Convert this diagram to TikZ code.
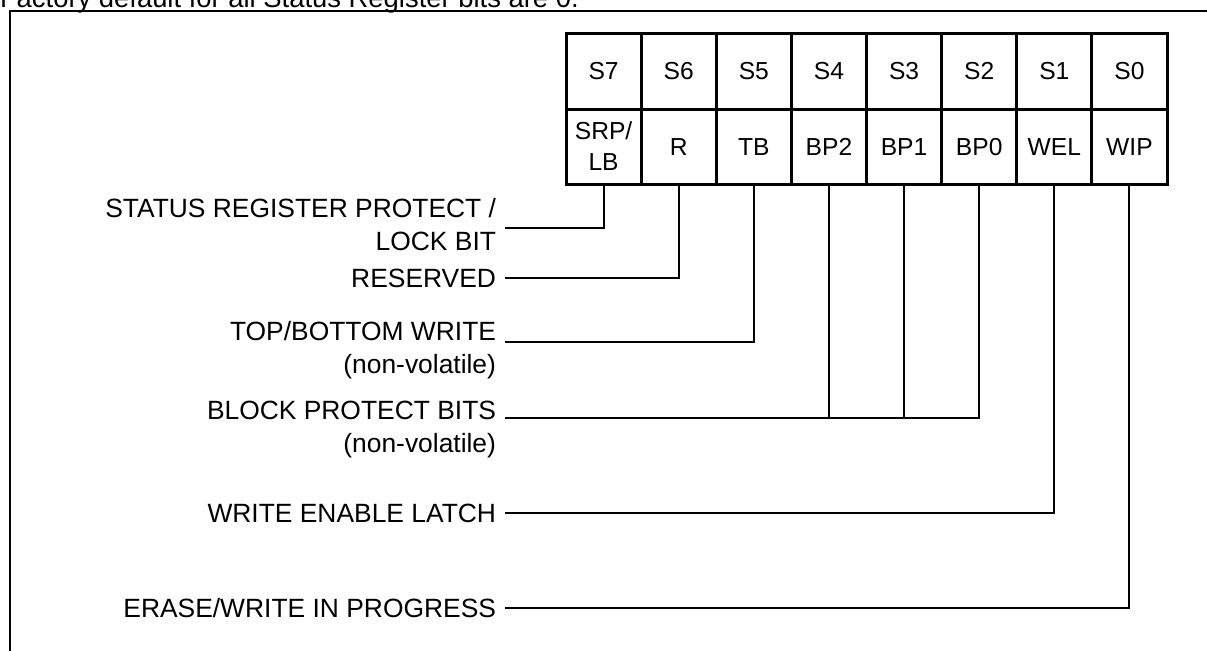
\documentclass[tikz,border=0pt]{standalone}
\usepackage{fontspec}
\setmainfont{Liberation Sans}
\usepackage{tikz}

\begin{document}
\begin{tikzpicture}[x=0.5pt, y=-0.5pt, line width=1pt,
  cell/.style={draw, line width=1.5pt, anchor=north west, inner sep=0pt, outer sep=0pt,
    minimum width=37.56pt, font=\fontsize{12.3pt}{15.5pt}\selectfont},
  bitname/.style={cell, minimum height=37.5pt, text height=8.8pt, text depth=0pt},
  desc/.style={inner sep=0pt, align=right, font=\fontsize{13.2pt}{16.5pt}\selectfont}]
\useasboundingbox (0,0) rectangle (1207,650);
%%%%% Caption and frame %%%%%
\node[anchor=base west, inner sep=0pt, font=\fontsize{13.7pt}{16pt}\selectfont] (note) at (-1,7)
  {Factory default for all Status Register bits are 0.};
\draw (9.5,700) -- (9.5,11) -- (1250,11);

%%%%% Register %%%%%
\foreach \j in {7,...,0}{
\node[cell, minimum height=38pt, text height=8.8pt, text depth=0pt] (s\j) at ({566+(7-\j)*75.125},33) {S\j};
}
\node[cell, minimum height=37.5pt, align=center] (b7) at (566,109) {SRP/\\LB};
\foreach \j/\bit in {6/R,5/TB,4/BP2,3/BP1,2/BP0,1/WEL,0/WIP}{
\node[bitname] (b\j) at ({566+(7-\j)*75.125},109) {\bit};
}

%%%%% Descriptions %%%%%
\node[desc, anchor=north east] (lsrp) at (497,197.5) {STATUS REGISTER PROTECT /\\LOCK BIT};
\node[desc, anchor=east] (lres) at (497,278) {RESERVED};
\node[desc, anchor=north east] (ltb) at (497,320.5) {TOP/BOTTOM WRITE\\(non-volatile)};
\node[desc, anchor=north east] (lbp) at (497,400.5) {BLOCK PROTECT BITS\\(non-volatile)};
\node[desc, anchor=east] (lwel) at (497,513) {WRITE ENABLE LATCH};
\node[desc, anchor=east] (lwip) at (497,608) {ERASE/WRITE IN PROGRESS};

\coordinate (esrp) at (505,228);
\coordinate (eres) at (505,278);
\coordinate (etb) at (505,342);
\coordinate (ebp) at (505,418);
\coordinate (ewel) at (505,513);
\coordinate (ewip) at (505,608);

%%%%% Connectors %%%%%
\draw (b7.south) |- (esrp);
\draw (b6.south) |- (eres);
\draw (b5.south) |- (etb);
\draw (b2.south) |- (ebp);
\foreach \j in {4,3}{
\draw (b\j.south) -- (b\j.south |- ebp);
}
\draw (b1.south) |- (ewel);
\draw (b0.south) |- (ewip);

\end{tikzpicture}
\end{document}
